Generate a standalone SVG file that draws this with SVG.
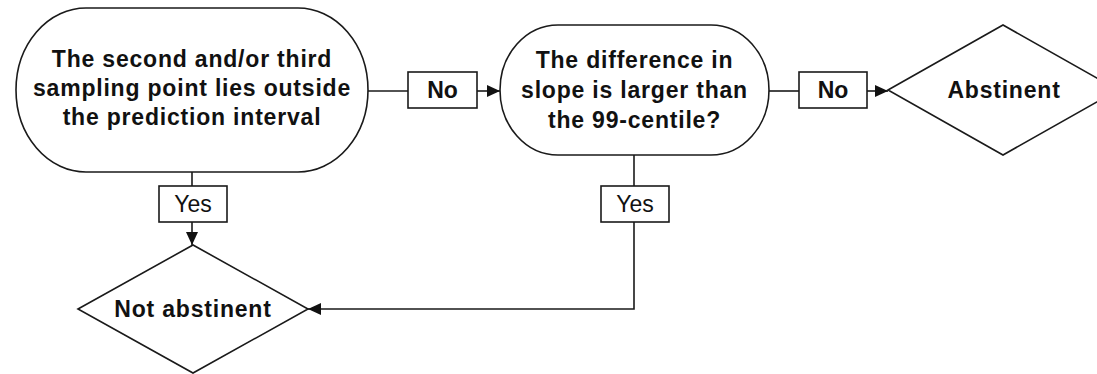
<svg xmlns="http://www.w3.org/2000/svg" width="1097" height="374" viewBox="0 0 1097 374">
  <style>
    .shape { fill: #ffffff; stroke: #1a1a1a; stroke-width: 1.6; }
    .conn { fill: none; stroke: #1a1a1a; stroke-width: 1.6; }
    .t { font-family: "Liberation Sans", Arial, sans-serif; font-size: 23px; font-weight: bold; fill: #111; text-anchor: middle; letter-spacing: 0.8px; }
    .lbl { font-family: "Liberation Sans", Arial, sans-serif; font-size: 23px; fill: #111; text-anchor: middle; }
    .lblb { font-family: "Liberation Sans", Arial, sans-serif; font-size: 23px; font-weight: bold; fill: #111; text-anchor: middle; }
  </style>
  <defs>
    <marker id="arrow" markerUnits="userSpaceOnUse" markerWidth="14" markerHeight="12" refX="13" refY="6" orient="auto">
      <path d="M0,0 L13,6 L0,12 Z" fill="#111"/>
    </marker>
  </defs>
  <rect width="1097" height="374" fill="#ffffff"/>

  <g id="connectors">
    <line class="conn" x1="368" y1="91" x2="408" y2="91"/>
    <line class="conn" x1="477" y1="91" x2="500" y2="91" marker-end="url(#arrow)"/>
    <line class="conn" x1="769" y1="91" x2="799" y2="91"/>
    <line class="conn" x1="867" y1="91" x2="888" y2="91" marker-end="url(#arrow)"/>
    <line class="conn" x1="192" y1="172" x2="192" y2="186"/>
    <line class="conn" x1="192" y1="222" x2="192" y2="245" marker-end="url(#arrow)"/>
    <line class="conn" x1="634" y1="155" x2="634" y2="186"/>
    <polyline class="conn" points="634,222 634,309 308,309" marker-end="url(#arrow)"/>
  </g>

  <g id="node-second-third">
    <rect class="shape" x="16" y="8" width="352" height="164" rx="70" ry="82"/>
    <text class="t" x="192" y="67">The second and/or third</text>
    <text class="t" x="192" y="96">sampling point lies outside</text>
    <text class="t" x="192" y="125">the prediction interval</text>
  </g>

  <g id="label-no-1">
    <rect class="shape" x="408" y="72" width="69" height="36"/>
    <text class="lblb" x="442.5" y="98">No</text>
  </g>

  <g id="node-slope">
    <rect class="shape" x="500" y="25" width="269" height="130" rx="58" ry="65"/>
    <text class="t" x="634.5" y="68">The difference in</text>
    <text class="t" x="634.5" y="98">slope is larger than</text>
    <text class="t" x="634.5" y="128">the 99-centile?</text>
  </g>

  <g id="label-no-2">
    <rect class="shape" x="799" y="72" width="68" height="36"/>
    <text class="lblb" x="833" y="98">No</text>
  </g>

  <g id="node-abstinent">
    <polygon class="shape" points="888,90 1003,25 1118,90 1003,155"/>
    <text class="t" x="1004" y="98">Abstinent</text>
  </g>

  <g id="label-yes-1">
    <rect class="shape" x="159" y="186" width="68" height="36"/>
    <text class="lbl" x="193" y="212">Yes</text>
  </g>

  <g id="label-yes-2">
    <rect class="shape" x="601" y="186" width="68" height="36"/>
    <text class="lbl" x="635" y="212">Yes</text>
  </g>

  <g id="node-not-abstinent">
    <polygon class="shape" points="78,309 193,245 308,309 193,373"/>
    <text class="t" x="193" y="317">Not abstinent</text>
  </g>
</svg>
